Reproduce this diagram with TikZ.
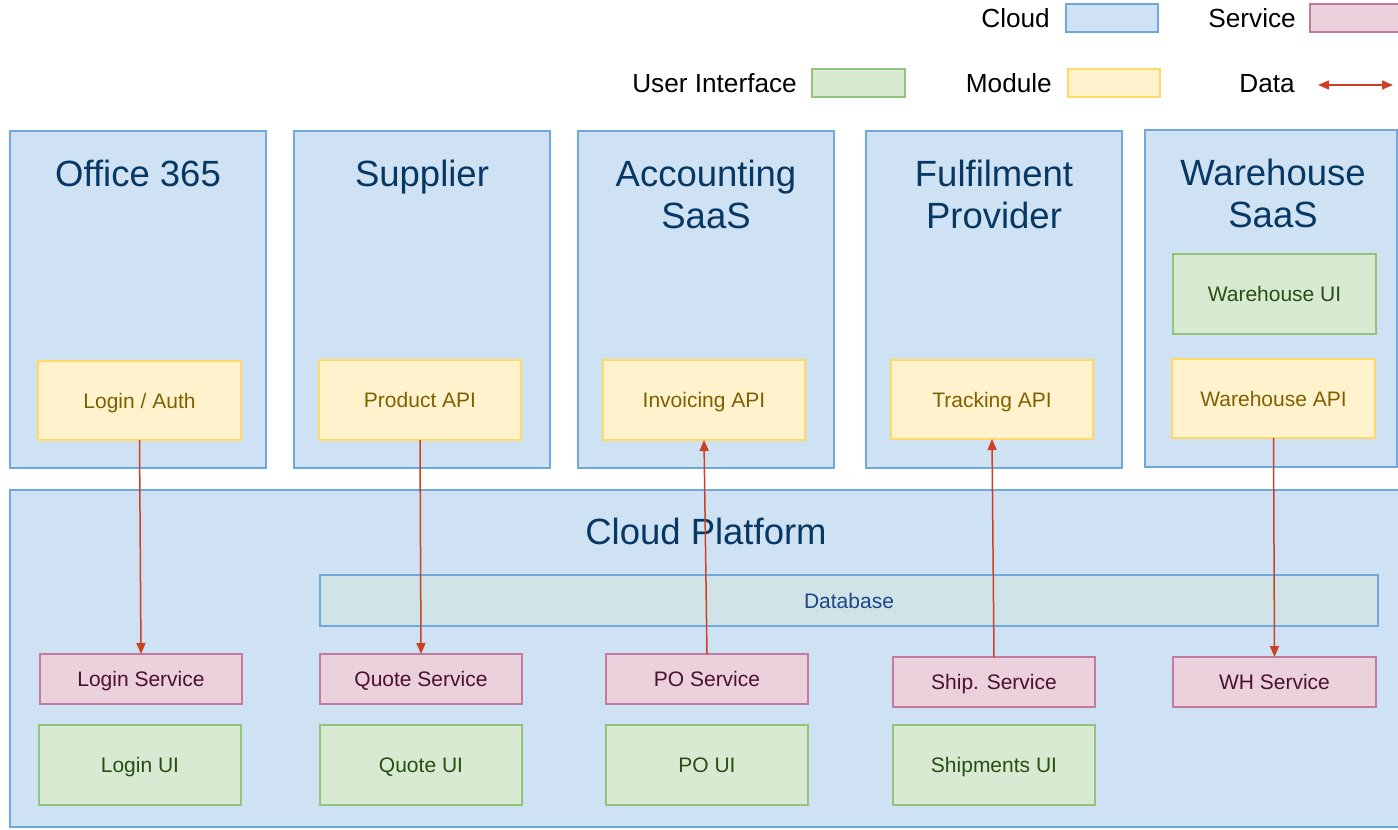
\documentclass[tikz,border=0pt]{standalone}
\usepackage{fontspec}
\setmainfont{Liberation Sans}
\usetikzlibrary{arrows.meta}

\definecolor{cloudfill}{HTML}{CFE2F3}
\definecolor{cloudline}{HTML}{6FA8DC}
\definecolor{modfill}{HTML}{FFF2CC}
\definecolor{modline}{HTML}{FFD966}
\definecolor{svcfill}{HTML}{EAD1DC}
\definecolor{svcline}{HTML}{C27BA0}
\definecolor{uifill}{HTML}{D9EAD3}
\definecolor{uiline}{HTML}{93C47D}
\definecolor{dbfill}{HTML}{D0E4E8}
\definecolor{datared}{HTML}{CC4125}
\definecolor{titletext}{HTML}{073763}
\definecolor{modtext}{HTML}{7F6000}
\definecolor{svctext}{HTML}{4C1130}
\definecolor{uitext}{HTML}{274E13}
\definecolor{dbtext}{HTML}{1C4587}

\tikzset{
  box/.style={draw, line width=1.6pt, inner sep=0pt, outer sep=0pt,
    text height=15pt, text depth=0pt, font=\fontsize{21}{25}\selectfont},
  cloudbox/.style={box, fill=cloudfill, draw=cloudline},
  modbox/.style={box, fill=modfill, draw=modline, text=modtext},
  svcbox/.style={box, fill=svcfill, draw=svcline, text=svctext},
  uibox/.style={box, fill=uifill, draw=uiline, text=uitext},
  dbbox/.style={box, fill=dbfill, draw=cloudline, text=dbtext},
  cloudtitle/.style={text=titletext, anchor=base, inner sep=0pt, font=\fontsize{36.5}{42}\selectfont},
  legendtext/.style={anchor=base east, inner sep=0pt, font=\fontsize{26.2}{31}\selectfont},
  data/.style={draw=datared, line width=1.5pt, -{Triangle[length=11pt,width=9pt]}},
}

% \bx{style}{name}{x1}{y1}{x2}{y2}{text}: box node spanning two corners
\newcommand\bx[7]{%
  \node[#1, minimum width={#5-#3}, minimum height={#6-#4}]
    (#2) at ({(#3+#5)/2},{(#4+#6)/2}) {#7};}

\begin{document}
\begin{tikzpicture}[x=1pt, y=-1pt]
\useasboundingbox (0,0) rectangle (1398,830);

% ---- legend ----
\node[legendtext] (lgcloudt) at (1050,27) {Cloud};
\bx{cloudbox}{lgcloud}{1066}{4}{1158}{32}{}
\node[legendtext] (lgsvct) at (1296,27) {Service};
\bx{svcbox}{lgsvc}{1310}{4}{1404}{32}{}
\node[legendtext] (lguit) at (797,92) {User Interface};
\bx{uibox}{lgui}{812}{69}{905}{97}{}
\node[legendtext] (lgmodt) at (1052,92) {Module};
\bx{modbox}{lgmod}{1068}{69}{1160}{97}{}
\node[legendtext] (lgdatat) at (1295,92) {Data};
\coordinate (lgdataA) at (1318,85);
\coordinate (lgdataB) at (1393,85);
\draw[data, {Triangle[length=11pt,width=9pt]}-{Triangle[length=11pt,width=9pt]}] (lgdataA) -- (lgdataB);

% ---- external clouds ----
\bx{cloudbox}{office}{10}{131}{266}{468}{}
\node[cloudtitle] (officet) at (138,186) {Office 365};
\bx{modbox}{auth}{38}{361}{241}{440}{Login / Auth}

\bx{cloudbox}{supplier}{294}{131}{550}{468}{}
\node[cloudtitle] (suppliert) at (422,186) {Supplier};
\bx{modbox}{prodapi}{319}{360}{521}{440}{Product API}

\bx{cloudbox}{acct}{578}{131}{834}{468}{}
\node[cloudtitle] (acctt) at (706,186) {Accounting};
\node[cloudtitle] (acctt2) at (706,228) {SaaS};
\bx{modbox}{invapi}{603}{360}{805}{440}{Invoicing API}

\bx{cloudbox}{fulfil}{866}{131}{1122}{468}{}
\node[cloudtitle] (fulfilt) at (994,186) {Fulfilment};
\node[cloudtitle] (fulfilt2) at (994,228) {Provider};
\bx{modbox}{trackapi}{891}{360}{1093}{439}{Tracking API}

\bx{cloudbox}{wh}{1145}{130}{1397}{467}{}
\node[cloudtitle] (wht) at (1273,185) {Warehouse};
\node[cloudtitle] (wht2) at (1273,227) {SaaS};
\bx{uibox}{whui}{1173}{254}{1376}{334}{Warehouse UI}
\bx{modbox}{whapi}{1172}{359}{1375}{438}{Warehouse API}

% ---- cloud platform ----
\bx{cloudbox}{platform}{10}{490}{1404}{827}{}
\node[cloudtitle] (platformt) at (706,544) {Cloud Platform};
\bx{dbbox}{db}{320}{575}{1378}{626}{Database}

\bx{svcbox}{loginsvc}{40}{654}{242}{704}{Login Service}
\bx{svcbox}{quotesvc}{320}{654}{522}{704}{Quote Service}
\bx{svcbox}{posvc}{606}{654}{808}{704}{PO Service}
\bx{svcbox}{shipsvc}{893}{657}{1095}{707}{Ship. Service}
\bx{svcbox}{whsvc}{1173}{657}{1376}{707}{WH Service}

\bx{uibox}{loginui}{39}{725}{241}{805}{Login UI}
\bx{uibox}{quoteui}{320}{725}{522}{805}{Quote UI}
\bx{uibox}{poui}{606}{725}{808}{805}{PO UI}
\bx{uibox}{shipui}{893}{725}{1095}{805}{Shipments UI}

% ---- data flows ----
\draw[data] (auth.south) -- (loginsvc.north);
\draw[data] (prodapi.south) -- (quotesvc.north);
\draw[data] (posvc.north) -- (invapi.south);
\draw[data] (shipsvc.north) -- (trackapi.south);
\draw[data] (whapi.south) -- (whsvc.north);
\end{tikzpicture}
\end{document}
